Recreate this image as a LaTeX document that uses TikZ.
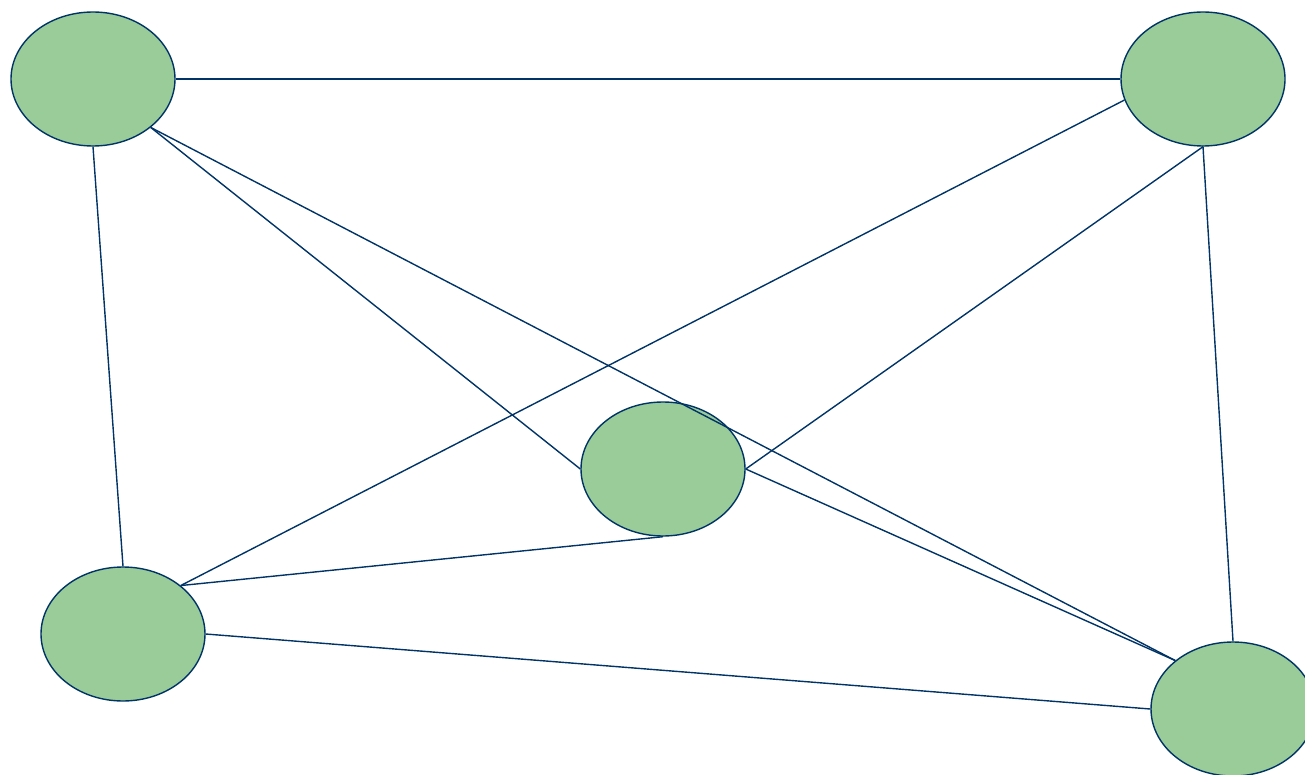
\documentclass[tikz,border=0pt]{standalone}
\usetikzlibrary{shapes.geometric}
\definecolor{edgeblue}{RGB}{0,51,102}
\definecolor{nodegreen}{RGB}{153,204,153}
\begin{document}
\begin{tikzpicture}[x=1pt,y=-1pt,
  blob/.style={ellipse,draw=edgeblue,fill=nodegreen,line width=1.4pt,minimum width=164pt,minimum height=134pt,inner sep=0pt},
  link/.style={draw=edgeblue,line width=1.4pt}]
\clip (0,0) rectangle (1305,775);
\useasboundingbox (0,0) rectangle (1305,775);
\node[blob] (A) at (93,79) {};
\node[blob] (B) at (1203,79) {};
\node[blob] (C) at (663,469) {};
\node[blob] (D) at (123,634) {};
\node[blob] (E) at (1233,709) {};
\begin{scope}[on background layer/.style={}]
\end{scope}
\path[link] (A.east) -- (B.west);
\path[link] (A.south) -- (D.north);
\path[link] (A.-40) -- (C.west);
\path[link] (A.-40) -- (E.140);
\path[link] (B.-165) -- (D.40);
\path[link] (B.south) -- (C.east);
\path[link] (B.south) -- (E.north);
\path[link] (C.south) -- (D.40);
\path[link] (C.east) -- (E.140);
\path[link] (D.east) -- (E.west);
\end{tikzpicture}
\end{document}
